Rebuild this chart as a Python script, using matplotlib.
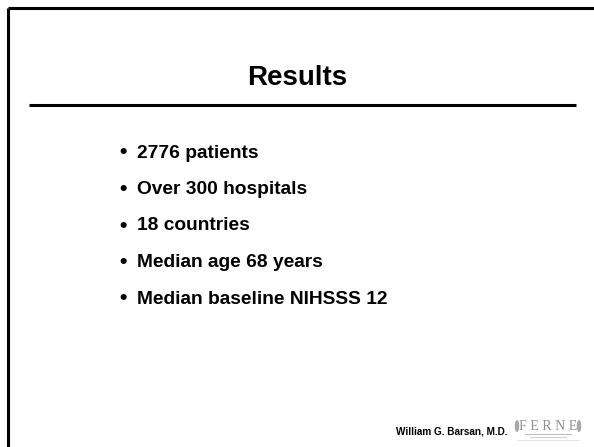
import matplotlib.pyplot as plt
from matplotlib.patches import Ellipse

plt.rcParams["font.family"] = ["Liberation Sans", "DejaVu Sans"]

TITLE = "Results"
BULLETS = [
    "2776 patients",
    "Over 300 hospitals",
    "18 countries",
    "Median age 68 years",
    "Median baseline NIHSSS 12",
]
FOOTER = "William G. Barsan, M.D."
LOGO = "F E R N E"

W, H = 594, 447
fig = plt.figure(figsize=(W / 100, H / 100), dpi=100)
ax = fig.add_axes([0, 0, 1, 1])
ax.set_xlim(0, W)
ax.set_ylim(H, 0)
ax.axis("off")

# slide frame (top and left edges)
ax.plot([8, W + 5], [8, 8], color="black", lw=2.2, solid_capstyle="butt")
ax.plot([8, 8], [8, H + 5], color="black", lw=2.2, solid_capstyle="butt")

# title and rule
ax.text(297, 78, TITLE, ha="center", va="center", fontsize=20, fontweight="bold")
ax.plot([29, 576], [105, 105], color="black", lw=2.2, solid_capstyle="butt")

# bullet list
y0, dy = 153, 36.5
for i, item in enumerate(BULLETS):
    y = y0 + i * dy
    ax.text(123, y, "\u2022", ha="center", va="center", fontsize=15.5, fontweight="bold")
    ax.text(137, y, item, ha="left", va="center", fontsize=13.8, fontweight="bold")

# footer
ax.text(507, 432, FOOTER, ha="right", va="center", fontsize=7.2, fontweight="bold")
ax.text(548, 426, LOGO, ha="center", va="center", fontsize=10, family="Liberation Serif",
        color="#909090")
for ex in (517, 579):
    ax.add_patch(Ellipse((ex, 426), 4.5, 12, color="#a8a8a8", lw=0))
ax.plot([525, 571], [434, 434], color="#c0c0c0", lw=0.8)
ax.plot([530, 566], [437, 437], color="#c8c8c8", lw=0.6)
ax.plot([517, 579], [440, 440], color="#d8d8d8", lw=0.5)

fig.savefig("out.png", dpi=100)
